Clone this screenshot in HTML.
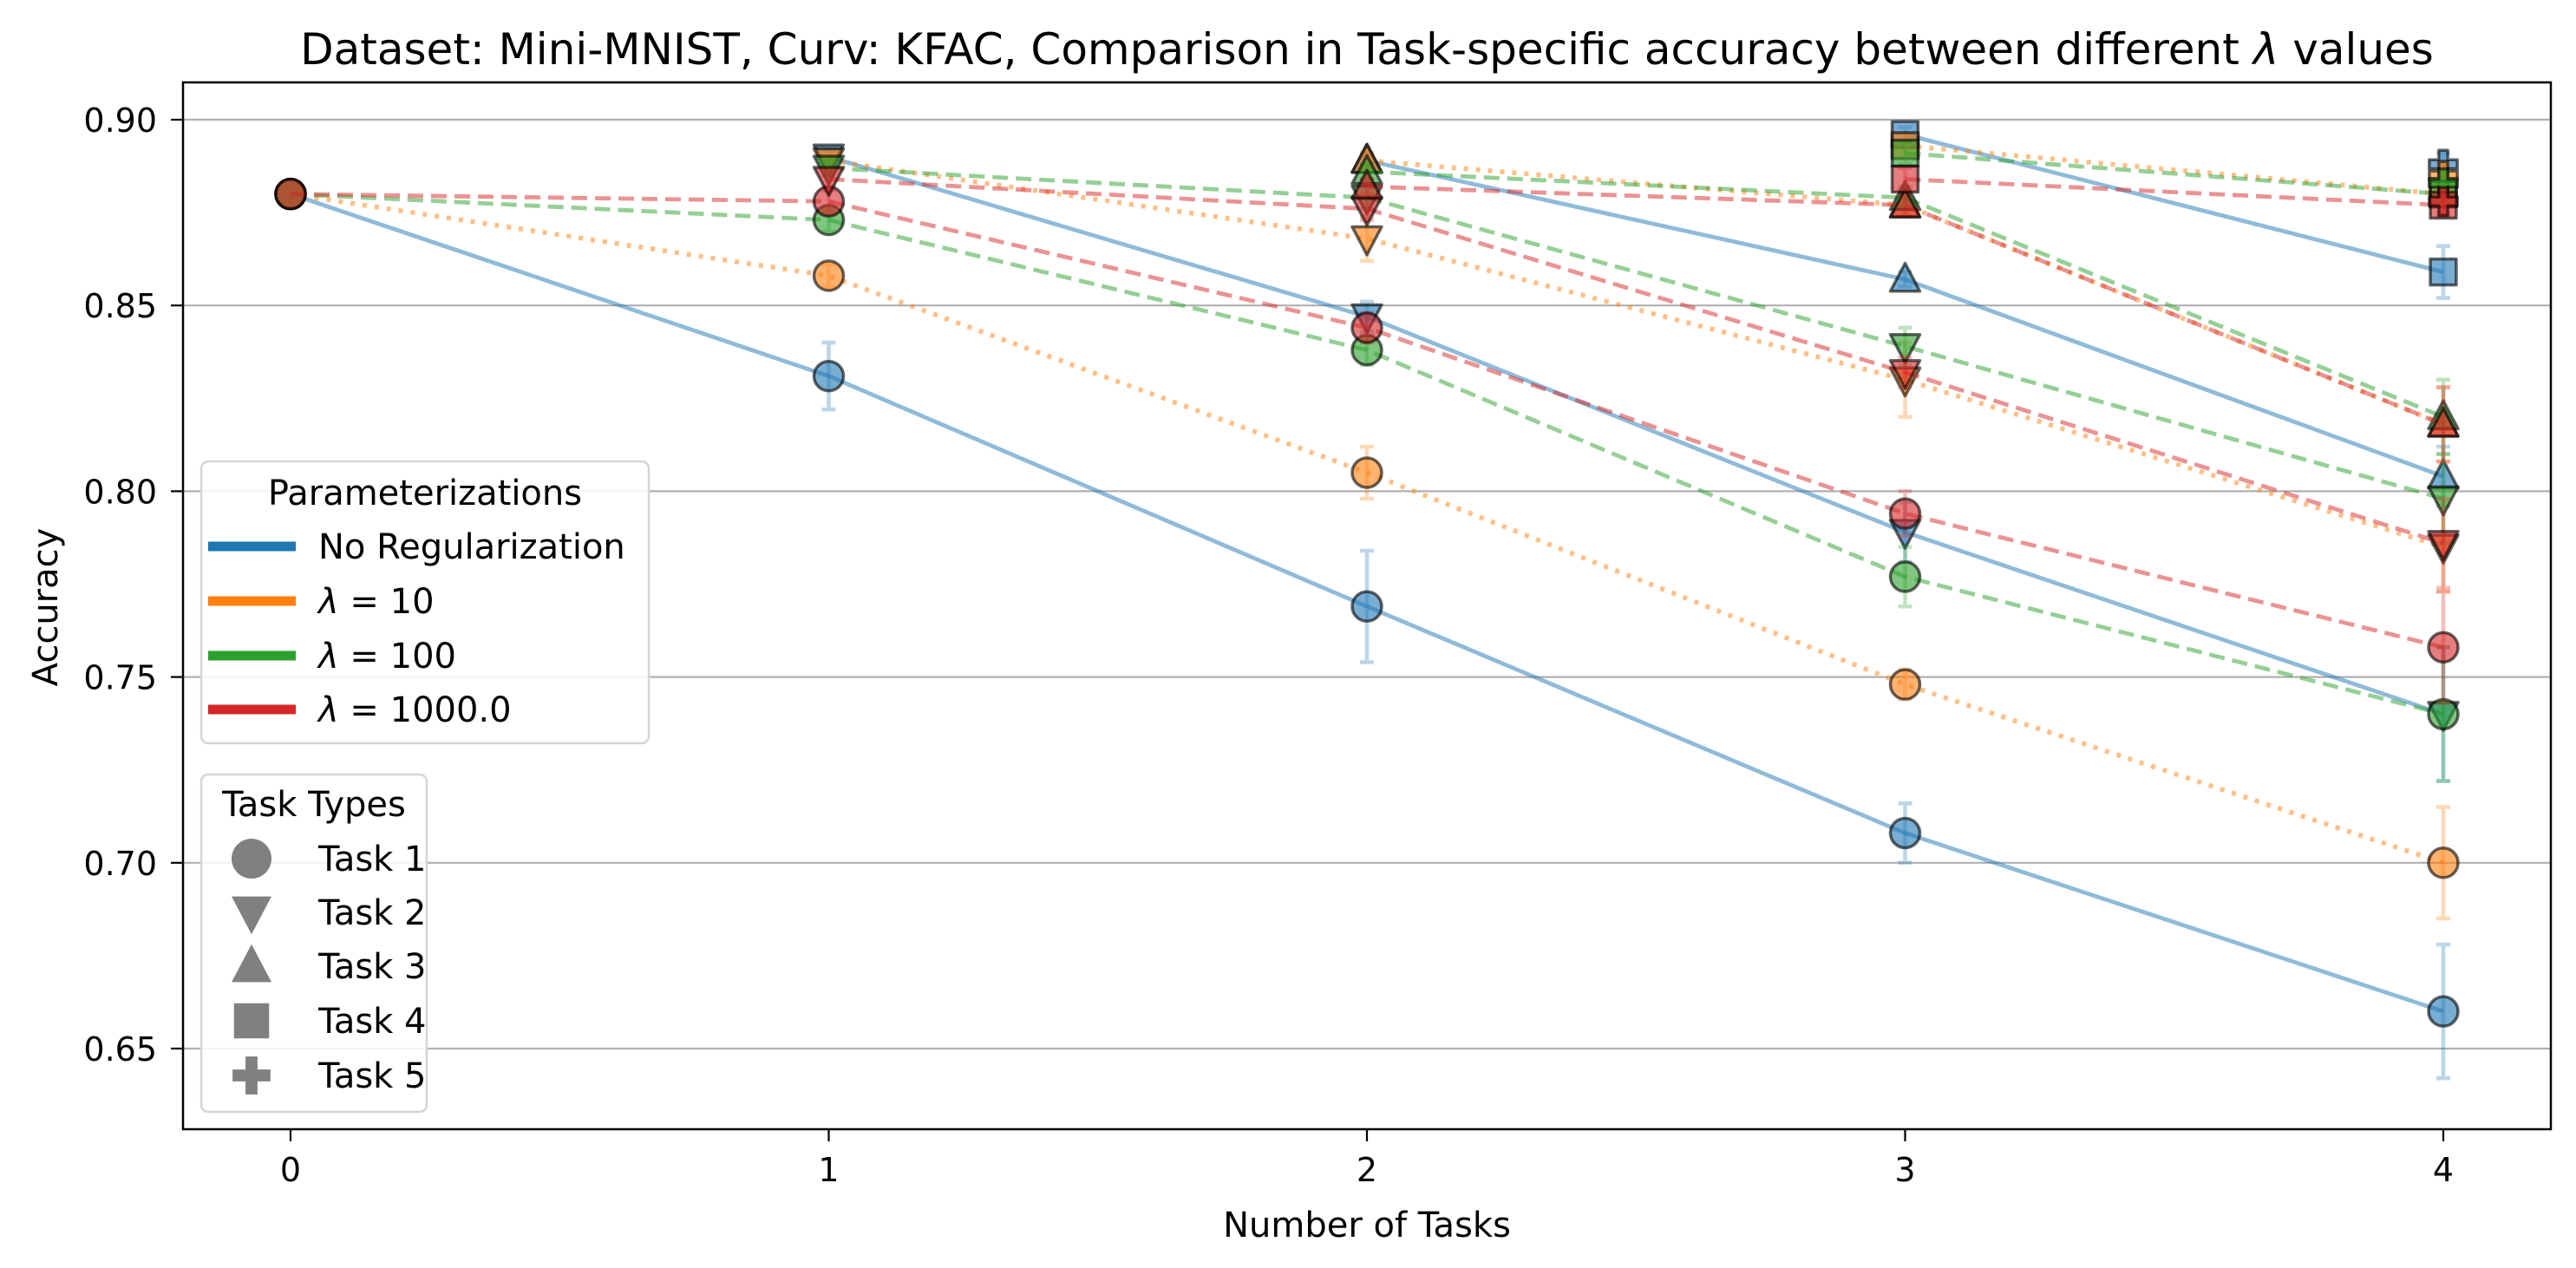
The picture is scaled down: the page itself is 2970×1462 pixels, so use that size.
<!DOCTYPE html>
<html><head><meta charset="utf-8"><style>
html,body{margin:0;padding:0;background:#fff;}
svg{display:block;font-family:"DejaVu Sans","Liberation Sans",sans-serif;}
</style></head><body>
<svg id="chart" width="2970" height="1462" viewBox="0 0 2970 1462" xmlns="http://www.w3.org/2000/svg">
<rect width="2970" height="1462" fill="#fff"/>
<g id="grid"></g>
<g id="plot"></g>
<rect x="211" y="95" width="2730" height="1207" fill="none" stroke="#000" stroke-width="2.5"/>
<g id="axes"></g>
<text x="1576" y="74" font-size="50" text-anchor="middle">Dataset: Mini-MNIST, Curv: KFAC, Comparison in Task-specific accuracy between different <tspan font-style="italic">λ</tspan> values</text>
<text x="1576" y="1426" font-size="40" text-anchor="middle">Number of Tasks</text>
<text x="0" y="0" font-size="40" text-anchor="middle" transform="translate(66,700) rotate(-90)">Accuracy</text>
<g id="legends"></g>
</svg>
<script>
const xTicks = [0,1,2,3,4];
const yTicks = [0.65,0.70,0.75,0.80,0.85,0.90];
const yTickLabels = ["0.65","0.70","0.75","0.80","0.85","0.90"];
const methods = ["No Regularization","λ = 10","λ = 100","λ = 1000.0"];
const taskNames = ["Task 1","Task 2","Task 3","Task 4","Task 5"];
// values per task (start index = task index)
const noRegVals = [[0.880,0.831,0.769,0.708,0.660],[0.890,0.847,0.789,0.740],[0.889,0.857,0.804],[0.896,0.859],[0.888]];
const lam10Vals = [[0.880,0.858,0.805,0.748,0.700],[0.889,0.868,0.830,0.785],[0.889,0.877,0.818],[0.893,0.880],[0.885]];
const lam100Vals = [[0.880,0.873,0.838,0.777,0.740],[0.887,0.879,0.839,0.798],[0.886,0.879,0.820],[0.891,0.880],[0.883]];
const lam1000Vals = [[0.880,0.878,0.844,0.794,0.758],[0.884,0.876,0.832,0.786],[0.882,0.877,0.818],[0.884,0.877],[0.878]];
const noRegStd = [[0,0.009,0.015,0.008,0.018],[0.002,0.004,0.008,0.018],[0.002,0.002,0.008],[0.002,0.007],[0.003]];
const lam10Std = [[0,0.003,0.007,0.004,0.015],[0.002,0.006,0.010,0.012],[0.002,0.003,0.010],[0.003,0.003],[0.003]];
const lam100Std = [[0,0.003,0.004,0.008,0.018],[0.002,0.003,0.005,0.012],[0.002,0.003,0.010],[0.003,0.003],[0.003]];
const lam1000Std = [[0,0.003,0.004,0.006,0.015],[0.002,0.003,0.004,0.012],[0.002,0.003,0.010],[0.003,0.003],[0.003]];

const allVals=[noRegVals,lam10Vals,lam100Vals,lam1000Vals];
const allStd=[noRegStd,lam10Std,lam100Std,lam1000Std];
const colors=["#1f77b4","#ff7f0e","#2ca02c","#d62728"];
const dashes=["none","5,9","18,9","18,9"];
const NS="http://www.w3.org/2000/svg";
const X0=211,X1=2941,Y0=95,Y1=1302;
const xs=v=>335+v*620.5;
const ys=v=>138+(0.90-v)*4284;
function mk(tag,attrs,parent){const e=document.createElementNS(NS,tag);for(const k in attrs)e.setAttribute(k,attrs[k]);parent.appendChild(e);return e;}
const grid=document.getElementById('grid'),plot=document.getElementById('plot'),axes=document.getElementById('axes'),leg=document.getElementById('legends');
yTicks.forEach((t,i)=>{
  const y=ys(t);
  const g=mk('line',{x1:X0,x2:X1,y1:y,y2:y,stroke:'#b0b0b0','stroke-width':2.2},grid);
  
  
  const tk=mk('line',{x1:X0-14,x2:X0,y1:y,y2:y,stroke:'#000','stroke-width':2.2},axes);
  
  
  const tx=mk('text',{x:X0-30,y:y+14,'font-size':38,'text-anchor':'end'},axes);
  tx.textContent=yTickLabels[i];
  
  
});
xTicks.forEach(t=>{
  const x=xs(t);
  const tk=mk('line',{x1:x,x2:x,y1:Y1,y2:Y1+14,stroke:'#000','stroke-width':2.2},axes);
  
  
  const tx=mk('text',{x:x,y:Y1+60,'font-size':38,'text-anchor':'middle'},axes);
  tx.textContent=String(t);
  
  
});
function marker(type,cx,cy,r,attrs,parent){
  let e;
  if(type===0)e=mk('circle',Object.assign({cx:cx,cy:cy,r:r},attrs),parent);
  else if(type===1)e=mk('polygon',Object.assign({points:`${cx-r},${cy-r*0.8} ${cx+r},${cy-r*0.8} ${cx},${cy+r*1.1}`},attrs),parent);
  else if(type===2)e=mk('polygon',Object.assign({points:`${cx-r},${cy+r*0.8} ${cx+r},${cy+r*0.8} ${cx},${cy-r*1.1}`},attrs),parent);
  else if(type===3)e=mk('rect',Object.assign({x:cx-r*0.88,y:cy-r*0.88,width:r*1.76,height:r*1.76},attrs),parent);
  else {const a=r*0.3,b=r*0.95;e=mk('polygon',Object.assign({points:`${cx-a},${cy-b} ${cx+a},${cy-b} ${cx+a},${cy-a} ${cx+b},${cy-a} ${cx+b},${cy+a} ${cx+a},${cy+a} ${cx+a},${cy+b} ${cx-a},${cy+b} ${cx-a},${cy+a} ${cx-b},${cy+a} ${cx-b},${cy-a} ${cx-a},${cy-a}`},attrs),parent);}
  return e;
}
allVals.forEach((series,m)=>{
  series.forEach((vals,t)=>{
    const g=mk('g',{},plot);
    
    
    vals.forEach((v,i)=>{
      const s=allStd[m][t][i];if(!s)return;
      const x=xs(t+i);
      const eb=mk('path',{d:`M${x},${ys(v-s)}V${ys(v+s)}M${x-8},${ys(v-s)}h16M${x-8},${ys(v+s)}h16`,stroke:colors[m],'stroke-width':4.5,'stroke-opacity':0.3,fill:'none'},g);
      
      
    });
    const pts=vals.map((v,i)=>xs(t+i)+','+ys(v)).join(' ');
    const ln=mk('polyline',{points:pts,fill:'none',stroke:colors[m],'stroke-width':m===1?5.5:4.8,'stroke-opacity':0.5,'stroke-dasharray':dashes[m]},g);
    
    
    vals.forEach((v,i)=>{
      const p=marker(t,xs(t+i),ys(v),17,{fill:colors[m],'fill-opacity':0.6,stroke:'#000','stroke-opacity':0.6,'stroke-width':3.5,'stroke-linejoin':'round'},g);
      
      
    });
  });
});
// legends
const l1=mk('g',{},leg);


mk('rect',{x:232,y:532,width:516,height:325,rx:8,fill:'#fff','fill-opacity':0.85,stroke:'#d5d5d5','stroke-width':2.5},l1);
const t1=mk('text',{x:490,y:582,'font-size':40,'text-anchor':'middle'},l1);t1.textContent='Parameterizations';


const ly=[630,693,756,818];
methods.forEach((n,i)=>{
  const e=mk('g',{},l1);
  
  
  mk('line',{x1:240,x2:341,y1:ly[i],y2:ly[i],stroke:colors[i],'stroke-width':11},e);
  const tx=mk('text',{x:367,y:ly[i]+14,'font-size':40},e);
  if(i===0)tx.textContent=n;else{const a=mk('tspan',{'font-style':'italic'},tx);a.textContent='λ';const b=mk('tspan',{},tx);b.textContent=' = '+n.split('= ')[1];}
});
const l2=mk('g',{},leg);


mk('rect',{x:232,y:893,width:260,height:389,rx:8,fill:'#fff','fill-opacity':0.85,stroke:'#d5d5d5','stroke-width':2.5},l2);
const t2=mk('text',{x:362,y:941,'font-size':40,'text-anchor':'middle'},l2);t2.textContent='Task Types';


const ty=[990,1052,1114,1177,1240];
taskNames.forEach((n,i)=>{
  const e=mk('g',{},l2);
  
  
  marker(i,290,ty[i],23,{fill:'#808080'},e);
  const tx=mk('text',{x:367,y:ty[i]+14,'font-size':40},e);tx.textContent=n;
});
</script>
</body></html>
